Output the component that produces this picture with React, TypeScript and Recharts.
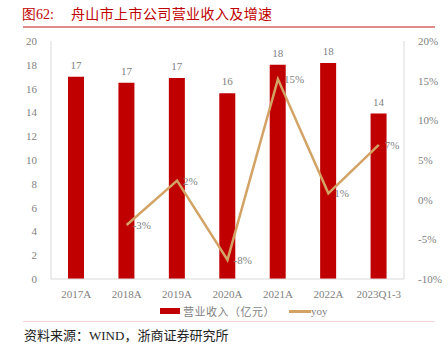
import React from 'react';
import {
  ComposedChart,
  Bar,
  Line,
  XAxis,
  YAxis,
  LabelList,
} from 'recharts';

const categories = ['2017A', '2018A', '2019A', '2020A', '2021A', '2022A', '2023Q1-3'];
const revenue = [17.0, 16.5, 16.9, 15.6, 18.0, 18.15, 13.9];
const yoy = [null, -3.2, 2.4, -7.6, 15.2, 0.8, 6.9];
const leftTicks = [0, 2, 4, 6, 8, 10, 12, 14, 16, 18, 20];
const rightTicks = [-10, -5, 0, 5, 10, 15, 20];

const data = categories.map((c, i) => ({ name: c, revenue: revenue[i], yoy: yoy[i] }));

const RED = '#C00000';
const GOLD = '#D2A365';
const TICK = { fill: '#7F7F7F', fontSize: 11, fontFamily: 'Liberation Serif' };
const CJK = '"Noto Sans CJK SC", sans-serif';

const App: React.FC = () => {
  return (
    <div style={{ position: 'absolute', left: 0, top: 0, width: 448, height: 353, background: '#fff' }}>
      <div
        style={{
          position: 'absolute',
          left: 22,
          top: 4,
          fontSize: 14,
          color: RED,
          fontFamily: CJK,
          whiteSpace: 'nowrap',
          lineHeight: '18px',
        }}
      >
        <span style={{ fontFamily: 'Liberation Serif' }}>图62:</span>
        <span style={{ marginLeft: 17, letterSpacing: 0.4 }}>舟山市上市公司营业收入及增速</span>
      </div>
      <div style={{ position: 'absolute', left: 23, top: 26, width: 412, height: 1.5, background: '#E08A8A' }} />

      <div style={{ position: 'absolute', left: 0, top: 0 }}>
        <ComposedChart
          width={448}
          height={300}
          data={data}
          margin={{ top: 41, right: 4, left: 21, bottom: 1 }}
        >
          <XAxis
            dataKey="name"
            height={20}
            axisLine={{ stroke: '#D9D9D9' }}
            tickLine={false}
            tick={TICK}
            tickMargin={5}
            interval={0}
          />
          <YAxis
            yAxisId="left"
            domain={[0, 20]}
            ticks={leftTicks}
            width={30}
            axisLine={{ stroke: '#D9D9D9' }}
            tickLine={false}
            tick={TICK}
            tickMargin={8}
          />
          <YAxis
            yAxisId="right"
            orientation="right"
            domain={[-10, 20]}
            ticks={rightTicks}
            width={40}
            axisLine={{ stroke: '#D9D9D9' }}
            tickLine={false}
            tick={TICK}
            tickMargin={8}
            tickFormatter={(v: number) => `${v}%`}
          />
          <Bar yAxisId="left" dataKey="revenue" fill={RED} barSize={16} isAnimationActive={false}>
            <LabelList
              dataKey="revenue"
              position="top"
              offset={8}
              style={TICK}
              formatter={(v: any) => Math.round(v)}
            />
          </Bar>
          <Line
            yAxisId="right"
            dataKey="yoy"
            stroke={GOLD}
            strokeWidth={2.5}
            dot={false}
            type="linear"
            isAnimationActive={false}
          >
            <LabelList
              dataKey="yoy"
              position="right"
              offset={6}
              style={TICK}
              formatter={(v: any) => (v == null ? '' : `${Math.round(v)}%`)}
            />
          </Line>
        </ComposedChart>
      </div>

      <div
        style={{
          position: 'absolute',
          left: 160,
          top: 303,
          display: 'flex',
          alignItems: 'center',
          fontSize: 11,
          color: '#7F7F7F',
          whiteSpace: 'nowrap',
        }}
      >
        <span style={{ display: 'inline-block', width: 20, height: 6, background: RED, marginRight: 3 }} />
        <span style={{ fontFamily: CJK, letterSpacing: 0.5 }}>营业收入（亿元）</span>
        <span style={{ display: 'inline-block', width: 22, height: 3, background: GOLD, marginLeft: 14 }} />
        <span style={{ fontFamily: 'Liberation Serif' }}>yoy</span>
      </div>

      <div style={{ position: 'absolute', left: 23, top: 321, width: 412, height: 1, background: '#F2D4D4' }} />
      <div
        style={{
          position: 'absolute',
          left: 24,
          top: 325,
          fontSize: 13,
          color: '#222',
          fontFamily: CJK,
          whiteSpace: 'nowrap',
        }}
      >
        资料来源：<span style={{ fontFamily: 'Liberation Serif' }}>WIND</span>，浙商证券研究所
      </div>
    </div>
  );
};

export default App;
